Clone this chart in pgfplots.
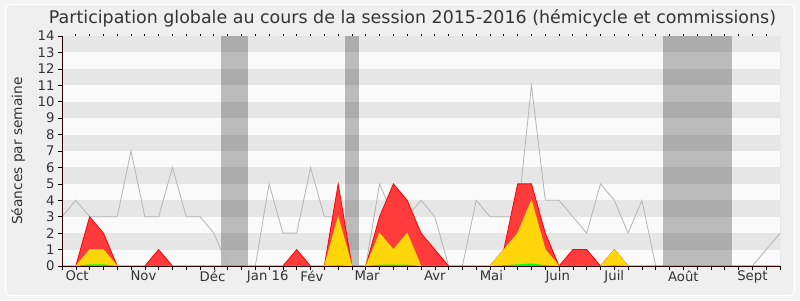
\documentclass[border=0pt]{standalone}
\usepackage{fontspec}
\setmainfont{DejaVu Sans}
\usepackage{pgfplots}
\usepackage{pgfplotstable}
\pgfplotsset{compat=1.18}
\definecolor{bgout}{HTML}{F4F4F4}
\definecolor{bgin}{HTML}{EFEFEF}
\definecolor{stripeA}{HTML}{FAFAFA}
\definecolor{stripeB}{HTML}{E6E6E6}
\definecolor{redfill}{HTML}{FF3B3B}
\definecolor{redline}{HTML}{FF0000}
\definecolor{yelfill}{HTML}{FFD60A}
\definecolor{yelline}{HTML}{FFF000}
\definecolor{grnfill}{HTML}{00FF00}
\definecolor{totline}{HTML}{B4B4B4}
\pgfplotstableread{
i tot red yel grn
0 3 0 0 0
1 4 0 0 0
2 3 3 1 0.1
3 3 2 1 0.1
4 3 0 0 0
5 7 0 0 0
6 3 0 0 0
7 3 1 0 0
8 6 0 0 0
9 3 0 0 0
10 3 0 0 0
11 2 0 0 0
12 0 0 0 0
13 0 0 0 0
14 0 0 0 0
15 5 0 0 0
16 2 0 0 0
17 2 1 0 0
18 6 0 0 0
19 3 0 0 0
20 3 5 3 0.05
21 0 0 0 0
22 0 0 0 0
23 5 3 2 0.08
24 3 5 1 0.08
25 3 4 2 0.08
26 4 2 0 0
27 3 1 0 0
28 0 0 0 0
29 0 0 0 0
30 4 0 0 0
31 3 0 0 0
32 3 1 1 0.05
33 3 5 2 0.1
34 11 5 4 0.15
35 4 2 1 0.05
36 4 0 0 0
37 3 1 0 0
38 2 1 0 0
39 5 0 0 0
40 4 1 1 0.05
41 2 0 0 0
42 4 0 0 0
43 0 0 0 0
44 0 0 0 0
45 0 0 0 0
46 0 0 0 0
47 0 0 0 0
48 0 0 0 0
49 0 0 0 0
50 0 0 0 0
51 1 0 0 0
52 2 0 0 0
}\datatable
\begin{document}
\begin{tikzpicture}[x=1bp,y=1bp]
\fill[bgout] (0,0) rectangle (800,300);
\draw[white, line width=1.2bp, fill=bgin, rounded corners=6bp] (5.5,4.5) rectangle (794.5,295.5);
\node[font=\fontsize{17.5}{19}\selectfont, text=black!80] at (412.5,282) {Participation globale au cours de la session 2015-2016 (hémicycle et commissions)};
\node[font=\fontsize{13.8}{15}\selectfont, text=black!80, rotate=90] at (18,149) {Séances par semaine};
\begin{axis}[
  at={(62bp,34bp)}, anchor=south west,
  scale only axis, width=718bp, height=230bp,
  xmin=0, xmax=52, ymin=0, ymax=14,
  axis x line*=bottom, axis y line*=left,
  axis line style={black!85!red, line width=0.9bp},
  axis background/.style={fill=stripeA},
  axis on top,
  xtick={0,...,52}, xticklabels={},
  ytick={0,...,14},
  tick align=outside, major tick length=4bp,
  tick style={black, line width=0.6bp},
  extra x ticks={1.1,5.9,10.9,14.9,18.1,22.1,27,31.1,35.9,40,45,50},
  extra x tick labels={Oct,Nov,Déc,Jan 16,Fév,Mar,Avr,Mai,Juin,Juil,Août,Sept},
  extra x tick style={major tick length=0pt, tick label style={yshift=-1bp}},
  ticklabel style={font=\fontsize{13.3}{15}\selectfont, text=black!80},
  /pgf/number format/assume math mode=true,
  clip=true,
]
\fill[stripeB] (axis cs:0,1) rectangle (axis cs:52,2);
\fill[stripeB] (axis cs:0,3) rectangle (axis cs:52,4);
\fill[stripeB] (axis cs:0,5) rectangle (axis cs:52,6);
\fill[stripeB] (axis cs:0,7) rectangle (axis cs:52,8);
\fill[stripeB] (axis cs:0,9) rectangle (axis cs:52,10);
\fill[stripeB] (axis cs:0,11) rectangle (axis cs:52,12);
\fill[stripeB] (axis cs:0,13) rectangle (axis cs:52,14);
\fill[black, opacity=0.25] (axis cs:11.5,0) rectangle (axis cs:13.5,14);
\fill[black, opacity=0.25] (axis cs:20.5,0) rectangle (axis cs:21.5,14);
\fill[black, opacity=0.25] (axis cs:43.5,0) rectangle (axis cs:48.5,14);
\draw[black!25, line width=0.8bp] (axis cs:52,0) -- (axis cs:52,14);
\addplot[totline, line width=0.8bp, mark=none] table[x=i, y=tot] {\datatable};
\addplot[draw=redline, fill=redfill, line width=0.8bp, mark=none] table[x=i, y=red] {\datatable} \closedcycle;
\addplot[draw=yelline, draw opacity=0.6, fill=yelfill, line width=0.8bp, mark=none] table[x=i, y=yel] {\datatable} \closedcycle;
\addplot[draw=none, fill=grnfill, mark=none] table[x=i, y=grn] {\datatable} \closedcycle;
\end{axis}
\begin{axis}[
  at={(62bp,34bp)}, anchor=south west,
  scale only axis, width=718bp, height=230bp,
  xmin=0, xmax=52, ymin=0, ymax=14,
  axis x line*=top, axis y line=none,
  axis line style={draw=none},
  xtick={1,...,51}, xticklabels={},
  tick align=outside, major tick length=1.5bp,
  tick style={black, line width=0.8bp},
]
\end{axis}
\end{tikzpicture}
\end{document}
